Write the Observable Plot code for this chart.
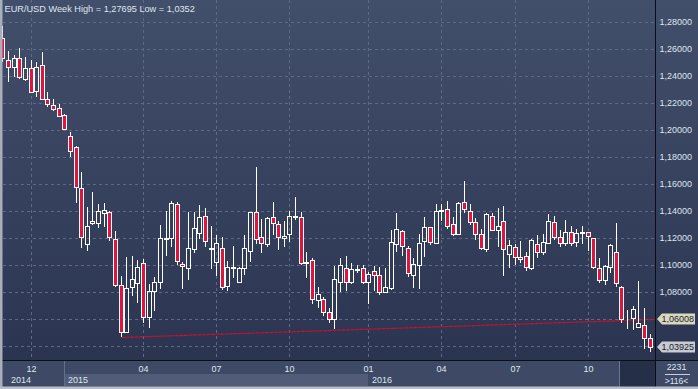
<!DOCTYPE html>
<html><head><meta charset="utf-8">
<script src="https://cdn.jsdelivr.net/npm/d3@7"></script>
<script src="https://cdn.jsdelivr.net/npm/@observablehq/plot@0.6"></script>
<style>
html,body{margin:0;padding:0;background:#2b3550;}
#chart{width:698px;height:389px;overflow:hidden;}
svg{display:block}
</style></head><body><div id="chart"></div>
<script>
// Weekly EUR/USD candles (index 0 = first visible week)
const opens = [1.2679,1.2519,1.2469,1.2531,1.2378,1.2457,1.2289,1.2481,1.2230,1.2183,
1.2161,1.2111,1.1956,1.1876,1.1568,1.1153,1.1309,1.1313,1.1387,1.1390,
1.1190,1.0850,1.0506,1.0835,1.0869,1.1013,1.0617,1.0805,1.0872,1.1190,
1.1202,1.1450,1.1010,1.0976,1.1116,1.1235,1.1365,1.1120,1.1024,1.1124,
1.0847,1.0980,1.0876,1.0976,1.1106,1.1395,1.1205,1.1156,1.1353,1.1301,
1.1198,1.1230,1.1365,1.1358,1.1024,1.1037,1.0741,1.0746,1.0652,1.0598,
1.0876,1.0976,1.0872,1.0960,1.0976,1.0872,1.0956,1.0924,1.0798,1.0832,
1.1153,1.1250,1.1124,1.0926,1.1000,1.1178,1.1279,1.1165,1.1397,1.1413,
1.1301,1.1230,1.1464,1.1402,1.1321,1.1227,1.1116,1.1365,1.1259,1.1328,
1.1079,1.1136,1.1057,1.1067,1.0980,1.1159,1.1099,1.1165,1.1316,1.1205,
1.1161,1.1242,1.1168,1.1240,1.1242,1.1198,1.0976,1.0889,1.0983,1.1094,
1.0839,1.0590,1.0605,1.0539,1.0553,1.0457];
const highs = [1.27695,1.2585,1.2556,1.2605,1.2539,1.2519,1.2501,1.2578,1.2281,1.2230,
1.2193,1.2119,1.1983,1.1884,1.1687,1.1427,1.1538,1.1452,1.1457,1.1400,
1.1252,1.0919,1.1061,1.1067,1.1037,1.1044,1.0859,1.0909,1.1296,1.1400,
1.1474,1.1464,1.1024,1.1390,1.1395,1.1444,1.1420,1.1289,1.1222,1.1205,
1.1030,1.1141,1.0987,1.1222,1.1395,1.1728,1.1341,1.1358,1.1464,1.1326,
1.1326,1.1402,1.1501,1.1390,1.1099,1.1054,1.0839,1.0765,1.0679,1.0993,
1.1050,1.1067,1.1015,1.1000,1.1000,1.0950,1.0993,1.0983,1.0980,1.1259,
1.1387,1.1259,1.1139,1.1054,1.1230,1.1358,1.1284,1.1450,1.1450,1.1474,
1.1353,1.1464,1.1622,1.1450,1.1346,1.1264,1.1383,1.1383,1.1420,1.1435,
1.1185,1.1153,1.1178,1.1099,1.1193,1.1224,1.1227,1.1378,1.1363,1.1259,
1.1333,1.1289,1.1264,1.1289,1.1247,1.1202,1.1050,1.1000,1.1156,1.1313,
1.0847,1.0667,1.0696,1.0881,1.0684,1.0489];
const lows = [1.2505,1.2358,1.2395,1.2378,1.2365,1.2276,1.2247,1.2222,1.2168,1.2143,
1.2094,1.2000,1.1802,1.1461,1.1124,1.1106,1.1296,1.1276,1.1284,1.1180,
1.0839,1.0469,1.0494,1.0770,1.0721,1.0573,1.0531,1.0661,1.0822,1.1067,
1.1136,1.1000,1.0822,1.0889,1.1091,1.1193,1.1136,1.0970,1.0919,1.0815,
1.0810,1.0901,1.0869,1.0926,1.1024,1.1156,1.1091,1.1131,1.1222,1.1109,
1.1136,1.1173,1.1333,1.1000,1.0901,1.0711,1.0679,1.0624,1.0573,1.0524,
1.0802,1.0807,1.0857,1.0939,1.0859,1.0711,1.0807,1.0778,1.0790,1.0815,
1.1094,1.1069,1.0913,1.0832,1.0822,1.1061,1.1146,1.1156,1.1326,1.1267,
1.1217,1.1222,1.1387,1.1296,1.1185,1.1111,1.1099,1.1252,1.1136,1.0921,
1.0975,1.1000,1.1017,1.0956,1.0963,1.1050,1.1074,1.1161,1.1185,1.1131,
1.1141,1.1141,1.1131,1.1156,1.1106,1.0970,1.0864,1.0854,1.0943,1.0835,
1.0573,1.0524,1.0519,1.0539,1.0376,1.0352];
const closes = [1.2531,1.2464,1.2531,1.2395,1.2457,1.2284,1.2464,1.2230,1.2190,1.2158,
1.2106,1.2010,1.1847,1.1576,1.1210,1.1291,1.1326,1.1400,1.1405,1.1205,
1.0850,1.0501,1.0827,1.0896,1.0983,1.0613,1.0810,1.0876,1.1202,1.1202,
1.1457,1.1032,1.0995,1.1124,1.1272,1.1358,1.1178,1.1126,1.1161,1.0835,
1.0987,1.0987,1.0976,1.1124,1.1390,1.1190,1.1161,1.1346,1.1309,1.1205,
1.1217,1.1365,1.1353,1.1017,1.1013,1.0746,1.0783,1.0654,1.0598,1.0894,
1.1000,1.0872,1.0968,1.0967,1.0872,1.0933,1.0924,1.0802,1.0835,1.1168,
1.1264,1.1141,1.0939,1.1010,1.1161,1.1279,1.1168,1.1400,1.1407,1.1291,
1.1227,1.1457,1.1413,1.1316,1.1227,1.1124,1.1375,1.1259,1.1289,1.1116,
1.1148,1.1061,1.1042,1.0985,1.1183,1.1094,1.1168,1.1328,1.1205,1.1161,
1.1242,1.1161,1.1235,1.1244,1.1215,1.0983,1.0889,1.0995,1.1148,1.0864,
1.0598,1.0595,1.0672,1.0568,1.0457,1.03925];

const monthTickIndex = [5, 25, 38, 51, 65, 78, 91, 104];
const monthTickLabels = ["12", "04", "07", "10", "01", "04", "07", "10"];
const yearLabels = ["2014", "2015", "2016"];
const yearStartIndex = [0.8, 11, 65];
const priceTicks = [1.28, 1.26, 1.24, 1.22, 1.20, 1.18, 1.16, 1.14, 1.12, 1.10, 1.08];
const gridPrices = [1.28, 1.26, 1.24, 1.22, 1.20, 1.18, 1.16, 1.14, 1.12, 1.10, 1.08, 1.06, 1.04];
const trendIndex = [21, 115.96];
const trendPrice = [1.0466, 1.06008];
const markerPrices = [1.06008, 1.03925];
const titleText = "EUR/USD Week High = 1,27695 Low = 1,0352";
const barInfoTop = "2231";
const barInfoBottom = ">116<";

const W = 698, H = 389;
const ML = 3, MR = 43, MT = 0, MB = 29;
const xDomain = [0.11, 115.96];
const yDomain = [1.02963, 1.29630];
// same x scale as the plot, used to snap candle centres to whole pixels
const xsc = Plot.scale({x: {type: "linear", domain: xDomain, range: [ML, W - MR]}});
const snap = (i, off) => xsc.invert(Math.round(xsc.apply(i)) + off);

const candles = opens.map((o, i) => ({
  i, open: o, high: highs[i], low: lows[i], close: closes[i],
  top: Math.max(o, closes[i]), bot: Math.min(o, closes[i]),
  down: closes[i] < o
}));
const trend = trendIndex.map((x, k) => ({x, y: trendPrice[k]}));
const fmt = v => v.toFixed(5).replace(".", ",");
const FONT = "'Liberation Sans', Arial, sans-serif";
const TXT = "#dfe5ef";

const chart = Plot.plot({
  width: W, height: H,
  marginLeft: ML, marginRight: MR, marginTop: MT, marginBottom: MB,
  style: {
    background: "linear-gradient(180deg,#424f6b 0%,#2d3753 85%,#28324c 100%)",
    fontFamily: FONT, fontSize: "9px", color: TXT, overflow: "visible"
  },
  x: {type: "linear", domain: xDomain, round: true, label: null},
  y: {type: "linear", domain: yDomain, round: true, label: null},
  marks: [
    Plot.gridY(gridPrices, {stroke: "#5c6a87", strokeOpacity: 1, strokeDasharray: "3,3"}),
    Plot.gridX(monthTickIndex, {stroke: "#5c6a87", strokeOpacity: 1, strokeDasharray: "3,3"}),
    Plot.line(trend, {x: "x", y: "y", stroke: "#c8102e", strokeWidth: 1.2, strokeDasharray: "3,1.5"}),
    Plot.ruleX(candles, {x: d => snap(d.i, 0), y1: "high", y2: "top", stroke: "#ffffff", strokeWidth: 1}),
    Plot.ruleX(candles, {x: d => snap(d.i, 0), y1: "bot", y2: "low", stroke: "#ffffff", strokeWidth: 1}),
    Plot.rect(candles, {
      x1: d => snap(d.i, -2), x2: d => snap(d.i, 2), y1: "open", y2: "close",
      dx: 0.5, dy: 0.5,
      fill: d => d.down ? "#e0143c" : "none", stroke: "#ffffff", strokeWidth: 1
    }),
    Plot.axisY(priceTicks, {anchor: "right", tickSize: 0, tickPadding: 4, tickFormat: fmt, fill: TXT, fontSize: 9, label: null}),
    Plot.axisX(monthTickIndex, {
      anchor: "bottom", tickSize: 0, tickPadding: 5, label: null,
      tickFormat: d => monthTickLabels[monthTickIndex.indexOf(d)], fill: TXT, fontSize: 9
    }),
    Plot.text([titleText], {frameAnchor: "top-left", dx: 1, dy: 5, text: d => d, fill: TXT, fontSize: 9.2, textAnchor: "start"})
  ]
});

const svg = d3.select(chart);
const xs = chart.scale("x"), ys = chart.scale("y");
const X = v => xs.apply(v);

// bottom time band (under axis text)
const under = svg.insert("g", "g");
under.append("rect").attr("x", 0).attr("y", 361).attr("width", W).attr("height", 28).attr("fill", "#3d4965");
under.append("rect").attr("x", X(yearStartIndex[1])).attr("y", 374).attr("width", X(yearStartIndex[2]) - X(yearStartIndex[1])).attr("height", 12).attr("fill", "#505c78");
under.append("line").attr("x1", X(yearStartIndex[1]) + 0.5).attr("x2", X(yearStartIndex[1]) + 0.5).attr("y1", 361).attr("y2", 386).attr("stroke", "#62708c");
under.append("rect").attr("x", X(109.8)).attr("y", 361).attr("width", 655 - X(109.8)).attr("height", 28).attr("fill", "#252f48");
under.append("line").attr("x1", X(109.8) - 0.5).attr("x2", X(109.8) - 0.5).attr("y1", 361).attr("y2", 387).attr("stroke", "#6b7792");

const over = svg.append("g").attr("font-family", FONT).attr("font-size", 9).attr("text-anchor", "start");
yearLabels.forEach((t, k) => {
  over.append("text").attr("x", X(yearStartIndex[k]) + 4).attr("y", 379.5).attr("dy", "0.35em").attr("fill", TXT).text(t);
});
// frame lines
over.append("line").attr("x1", 0).attr("x2", W).attr("y1", 360.5).attr("y2", 360.5).attr("stroke", "#0a0e16");
over.append("line").attr("x1", 655.5).attr("x2", 655.5).attr("y1", 0).attr("y2", H).attr("stroke", "#0a0e16");
over.append("rect").attr("x", 0).attr("y", 0).attr("width", 2.5).attr("height", H).attr("fill", "#a9afba");
over.append("rect").attr("x", 0).attr("y", 386.5).attr("width", W).attr("height", 2.5).attr("fill", "#b9bec8");
// bar info box
over.append("text").attr("x", 676.5).attr("y", 366.8).attr("dy", "0.35em").attr("text-anchor", "middle").attr("font-size", 8.8).attr("fill", TXT).text(barInfoTop);
over.append("line").attr("x1", 665).attr("x2", 690).attr("y1", 374.5).attr("y2", 374.5).attr("stroke", "#c9d0dc");
over.append("text").attr("x", 676.5).attr("y", 381).attr("dy", "0.35em").attr("text-anchor", "middle").attr("font-size", 8.6).attr("fill", TXT).text(barInfoBottom);
// price markers
const markerFill = ["#d9d8bd", "#c8cbd0"];
markerPrices.forEach((p, k) => {
  const y = ys.apply(p);
  over.append("polygon")
    .attr("points", `657,${y} 662,${y - 5.5} 695,${y - 5.5} 695,${y + 5.5} 662,${y + 5.5}`)
    .attr("fill", markerFill[k]);
  over.append("text").attr("x", 661.5).attr("y", y).attr("dy", "0.35em").attr("fill", "#1b2233").text(fmt(p));
});

document.getElementById("chart").appendChild(chart);
</script>
</body></html>
